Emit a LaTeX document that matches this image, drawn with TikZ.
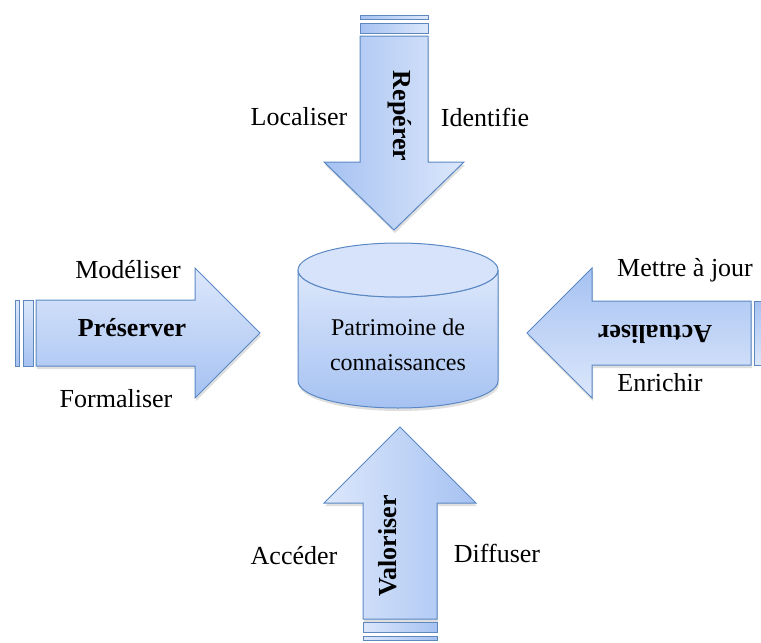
\documentclass[tikz,border=0pt]{standalone}
\usepackage{fontspec}
\setmainfont{Liberation Serif}
\usepackage{tikz}
\usetikzlibrary{shadows}

\definecolor{edgeblue}{HTML}{5A88C4}
\definecolor{darkfill}{HTML}{A6C2F2}
\definecolor{lightfill}{HTML}{DCE7FB}

\tikzset{
	arrowline/.style={draw=edgeblue, line width=1pt, line join=miter,
		drop shadow={opacity=0.25, shadow xshift=1pt, shadow yshift=-3pt}},
	stripe/.style={draw=edgeblue!90!gray, line width=0.8pt},
	shdtop/.style={left color=darkfill, right color=lightfill},
	shdbot/.style={left color=lightfill, right color=darkfill},
	shdleft/.style={top color=lightfill, bottom color=darkfill},
	shdright/.style={top color=darkfill, bottom color=lightfill},
	lbl/.style={font=\fontsize{26}{30}\selectfont, inner sep=0pt},
	arrtxt/.style={font=\fontsize{26}{30}\selectfont\bfseries, inner sep=0pt}
}

\begin{document}
\begin{tikzpicture}[x=1pt, y=-1pt]
	\useasboundingbox (0,0) rectangle (761,643);
	\clip (0,0) rectangle (761,643);
	
	% the four arrows: back end, direction, length, half widths, head length
	\foreach \bx/\by/\dx/\dy/\len/\w/\h/\k/\shd in
	{394/15/0/1/215/34/70/68/shdtop, 400/640/0/-1/213/37/76/76/shdbot,
		15/333/1/0/245/33/65/65/shdleft, 772/333/-1/0/245/32/65/65/shdright}{
		\pgfmathsetmacro\hb{\len-\k}
		\draw[arrowline,\shd]
		(\bx+21*\dx-\w*\dy, \by+21*\dy+\w*\dx) --
		(\bx+\hb*\dx-\w*\dy, \by+\hb*\dy+\w*\dx) --
		(\bx+\hb*\dx-\h*\dy, \by+\hb*\dy+\h*\dx) --
		(\bx+\len*\dx, \by+\len*\dy) --
		(\bx+\hb*\dx+\h*\dy, \by+\hb*\dy-\h*\dx) --
		(\bx+\hb*\dx+\w*\dy, \by+\hb*\dy-\w*\dx) --
		(\bx+21*\dx+\w*\dy, \by+21*\dy-\w*\dx) -- cycle;
		% stripes at the back
		\draw[stripe,\shd] (\bx-\w*\dy, \by+\w*\dx) rectangle (\bx+4*\dx+\w*\dy, \by+4*\dy-\w*\dx);
		\draw[stripe,\shd] (\bx+8*\dx-\w*\dy, \by+8*\dy+\w*\dx) rectangle (\bx+18*\dx+\w*\dy, \by+18*\dy-\w*\dx);
	}
	
	% cylinder
	\draw[arrowline, top color=lightfill, bottom color=darkfill]
	(298,270) -- (298,381) arc[start angle=180, end angle=0, x radius=100, y radius=27]
	-- (498,270) arc[start angle=0, end angle=180, x radius=100, y radius=27] -- cycle;
	\draw[draw=edgeblue, line width=1pt, fill=lightfill!90!darkfill]
	(398,270) ellipse[x radius=100, y radius=27];
	\node[lbl, font=\fontsize{24}{35}\selectfont, align=center] (store) at (398,345)
	{Patrimoine de\\connaissances};
	
	% texts in the arrows
	\node[arrtxt, rotate=-90] (reperer) at (400,116){Repérer};
	\node[arrtxt] (preserver) at (132,328){Préserver};
	\node[arrtxt, rotate=180] (actualiser) at (655,334){Actualiser};
	\node[arrtxt, rotate=90] (valoriser) at (388,546){Valoriser};
	
	% texts beside the arrows
	\node[lbl] (localiser) at (299,117){Localiser};
	\node[lbl] (identifie) at (485,117){Identifie};
	\node[lbl] (modeliser) at (128,270){Modéliser};
	\node[lbl] (formaliser) at (116,399){Formaliser};
	\node[lbl] (majour) at (685,270){Mettre à jour};
	\node[lbl] (enrichir) at (660,383){Enrichir};
	\node[lbl] (acceder) at (294,556){Accéder};
	\node[lbl] (diffuser) at (497,553){Diffuser};
\end{tikzpicture}
\end{document}
